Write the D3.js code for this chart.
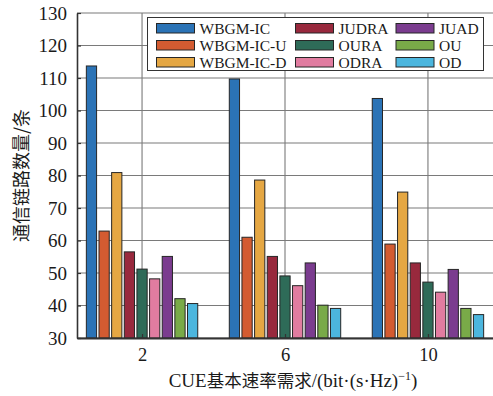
<!DOCTYPE html>
<html>
<head>
<meta charset="utf-8">
<script src="https://cdn.jsdelivr.net/npm/d3@7"></script>
<style>
  html, body { margin: 0; padding: 0; background: #fff; }
  svg { display: block; }
</style>
</head>
<body>
<svg id="chart" width="493" height="396"></svg>
<script>
// Category axis: CUE basic rate requirement
const categories = ["2", "6", "10"];

// Series names and colours
const seriesNames = ["WBGM-IC", "WBGM-IC-U", "WBGM-IC-D", "JUDRA", "OURA", "ODRA", "JUAD", "OU", "OD"];
const seriesColors = ["#2b73b6", "#d35b31", "#e5a743", "#98293d", "#2e6b58", "#e17ca0", "#7b3c8f", "#79aa48", "#4cb6de"];

// Number of communication links for each series, one value per category
const wbgmIC  = [113.7, 109.7, 103.7];
const wbgmICU = [62.9, 61.0, 58.9];
const wbgmICD = [80.9, 78.6, 74.9];
const judra   = [56.5, 55.1, 53.1];
const oura    = [51.2, 49.1, 47.2];
const odra    = [48.2, 46.1, 44.1];
const juad    = [55.1, 53.1, 51.1];
const ou      = [42.1, 40.1, 39.1];
const od      = [40.6, 39.1, 37.2];
const seriesValues = [wbgmIC, wbgmICU, wbgmICD, judra, oura, odra, juad, ou, od];

// Y-axis ticks
const yTicks = [30, 40, 50, 60, 70, 80, 90, 100, 110, 120, 130];

const LATIN = '"Liberation Serif"';
const CJK = '"Noto Sans CJK SC"';

const svg = d3.select("#chart");
const margin = { left: 77, right: 0, top: 13, bottom: 58 };
const W = 493, H = 396;
const x0 = margin.left, x1 = W - margin.right;
const y0 = H - margin.bottom, y1 = margin.top;

const x = d3.scalePoint().domain(categories).range([x0, x1]).padding(0.455);
const xs = d3.scaleBand().domain(seriesNames).range([-55.7, 55.7]).paddingInner(0.19);
const y = d3.scaleLinear().domain([30, 130]).range([y0, y1]);

// Grid lines
const grid = svg.append("g");
grid.selectAll("line.h").data(yTicks).join("line")
  .attr("x1", x0).attr("x2", x1)
  .attr("y1", d => y(d)).attr("y2", d => y(d))
  .attr("stroke", "#7a7a7a").attr("stroke-width", 1.1);
grid.selectAll("line.v").data(categories).join("line")
  .attr("x1", d => x(d)).attr("x2", d => x(d))
  .attr("y1", y0).attr("y2", y1)
  .attr("stroke", "#7a7a7a").attr("stroke-width", 1.1);

// Bars
const rows = [];
categories.forEach((c, i) => seriesNames.forEach((s, j) => rows.push({ c, s, j, v: seriesValues[j][i] })));
svg.append("g").selectAll("rect").data(rows).join("rect")
  .attr("x", d => x(d.c) + xs(d.s))
  .attr("width", xs.bandwidth())
  .attr("y", d => y(d.v))
  .attr("height", d => y0 - y(d.v))
  .attr("fill", d => seriesColors[d.j])
  .attr("stroke", "#262626").attr("stroke-width", 1);

// Axes with inward ticks
const yAxis = svg.append("g").attr("transform", `translate(${x0},0)`)
  .call(d3.axisLeft(y).tickValues(yTicks).tickSizeInner(-4).tickSizeOuter(0).tickPadding(10));
yAxis.select(".domain").attr("stroke", "#333").attr("stroke-width", 1.6);
yAxis.selectAll(".tick line").attr("stroke", "#333").attr("stroke-width", 1.2);
yAxis.selectAll("text").attr("font-size", 19).attr("fill", "#1a1a1a").style("font-family", LATIN);

const xAxis = svg.append("g").attr("transform", `translate(0,${y0})`)
  .call(d3.axisBottom(x).tickSizeInner(-4).tickSizeOuter(0).tickPadding(10));
xAxis.select(".domain").attr("stroke", "#333").attr("stroke-width", 1.8);
xAxis.selectAll(".tick line").attr("stroke", "#333").attr("stroke-width", 1.2);
xAxis.selectAll("text").attr("font-size", 18.5).attr("fill", "#1a1a1a").style("font-family", LATIN);

// Axis titles
svg.append("text")
  .attr("transform", `translate(28,${(y0 + y1) / 2}) rotate(-90)`)
  .attr("text-anchor", "middle").attr("font-size", 18)
  .style("font-family", CJK).attr("fill", "#1a1a1a")
  .text("通信链路数量/条");

const xt = svg.append("text")
  .attr("x", 293).attr("y", 387)
  .attr("text-anchor", "middle").attr("font-size", 19)
  .style("font-family", LATIN).attr("fill", "#1a1a1a");
xt.append("tspan").text("CUE");
xt.append("tspan").style("font-family", CJK).attr("font-size", 17.5).text("基本速率需求");
xt.append("tspan").text("/(bit·(s·Hz)");
xt.append("tspan").attr("font-size", 12).attr("dy", -7).text("−1");
xt.append("tspan").attr("dy", 7).text(")");

// Legend: three columns, three rows
const legend = svg.append("g");
legend.append("rect")
  .attr("x", 147.5).attr("y", 17.5).attr("width", 336).attr("height", 53)
  .attr("fill", "#fff").attr("stroke", "#333").attr("stroke-width", 1);
const colX = [156.5, 295.5, 396];
const items = seriesNames.map((s, j) => ({ s, j, col: Math.floor(j / 3), row: j % 3 }));
const li = legend.selectAll("g.item").data(items).join("g")
  .attr("transform", d => `translate(${colX[d.col]},${23.5 + d.row * 17})`);
li.append("rect").attr("width", 38).attr("height", 9.5)
  .attr("fill", d => seriesColors[d.j]).attr("stroke", "#262626").attr("stroke-width", 1);
li.append("text").attr("x", 43).attr("y", 10.5).attr("font-size", 15.5)
  .style("font-family", LATIN).attr("fill", "#1a1a1a").text(d => d.s);
</script>
</body>
</html>
